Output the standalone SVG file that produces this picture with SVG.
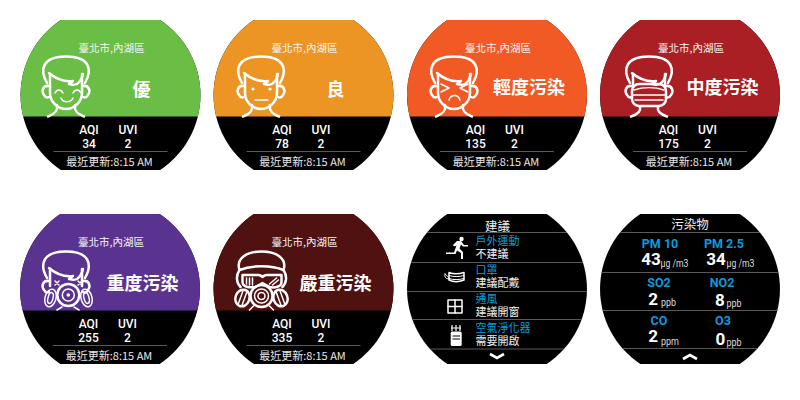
<svg xmlns="http://www.w3.org/2000/svg" width="800" height="400" viewBox="0 0 800 400">
<style>
text{font-family:"Roboto","Noto Sans CJK TC",sans-serif;fill:#fff;text-anchor:middle}
.cjk{font-family:"Noto Sans CJK TC","Noto Sans CJK SC",sans-serif}
.city{font-size:10.5px;fill:#f4f4f4}
.level{font-size:18px;font-weight:700}
.lab{font-size:12px;font-weight:500}
.upd{font-size:11px;fill:#e8e8e8}
.ln{stroke:#5a5a5a;stroke-width:1;fill:none}
.o{fill:none;stroke:#fff;stroke-width:2.5;stroke-linecap:round;stroke-linejoin:round}
.t{stroke-width:1.5}
.hd{font-size:12.500px;fill:#eee}
.b{font-size:11px;fill:#0a9bdc;text-anchor:start}
.w{font-size:11px;fill:#eee;text-anchor:start}
.p{font-size:12.500px;font-weight:700;fill:#0a9bdc}
.v{font-size:17px;font-weight:700}
.u{font-size:10.500px;fill:#ddd;text-anchor:start}
.ch{fill:none;stroke:#fff;stroke-width:2.600}
</style>
<defs>
<path id="all" d="M-49.700-75H49.700A90 90 0 0 1 49.700 75H-49.700A90 90 0 0 1-49.700-75Z" fill="#000"/>
<path id="top" d="M-49.700-75H49.700A90 90 0 0 1 87.400 21.500H-87.400A90 90 0 0 1-49.700-75Z"/>
<g id="info">
<line class="ln" x1="-57" y1="56.500" x2="57" y2="56.500"/>
<text class="lab" x="-21.500" y="39">AQI</text><text class="lab" x="17.500" y="39">UVI</text>
<text class="lab" x="17.500" y="52.500">2</text>
<text class="cjk upd" x="-1" y="70.500">最近更新:8:15 AM</text>
<text class="cjk city" x="1" y="-43">臺北市,內湖區</text>
</g>
<g id="hair" class="o">
<path d="M-19 28C-27 14-23 1.500 0 1.500C23 1.500 27 14 19 28"/>
<path d="M-17 18C-10 24-2 27 7 26L3 29C7 30 9 30 11 29C14 27 16 23 17 19"/>
<path d="M-17 31C-23 30-25 36-22 40C-21 42-19 43-17 42"/>
<path d="M17 31C23 30 25 36 22 40C21 42 19 43 17 42"/>
</g>
<g id="face">
<use href="#hair"/>
<g class="o">
<path d="M-16 19V38C-16 47-8 54 0 54C8 54 16 47 16 38V19"/>
<path d="M-9 50C-8 56-11 59-18 61.500M9 50C8 56 11 59 18 61.500"/>
</g>
</g>
<g id="filter" class="o t">
<ellipse cx="0" cy="0" rx="5.500" ry="9"/>
<ellipse cx="0" cy="0" rx="2.500" ry="5.500"/>
</g>
</defs>

<g id="screen-good" transform="translate(110.500 95)">
<use href="#all"/><use href="#top" fill="#6abd45"/><use href="#info"/>
<text class="cjk level" x="31" y="1">優</text>
<text class="lab" x="-21.500" y="52.500">34</text>
<g transform="translate(-44.500 -40)"><use href="#face"/>
<path class="o t" d="M-11 38C-9 34-5 34-3 38M7 38C9 34 13 34 15 38M-5 43C-3 48 5 48 7 43"/></g>
</g>

<g id="screen-moderate" transform="translate(303.500 95)">
<use href="#all"/><use href="#top" fill="#ec9424"/><use href="#info"/>
<text class="cjk level" x="32" y="1">良</text>
<text class="lab" x="-21.500" y="52.500">78</text>
<g transform="translate(-42.500 -40)"><use href="#face"/>
<circle cx="-8" cy="34" r="1.600" fill="#fff"/><circle cx="9" cy="34" r="1.600" fill="#fff"/>
<path class="o t" d="M-6 45H7"/></g>
</g>

<g id="screen-light" transform="translate(497 95)">
<use href="#all"/><use href="#top" fill="#f15a25"/><use href="#info"/>
<text class="cjk level" x="32" y="-1">輕度污染</text>
<text class="lab" x="-21.500" y="52.500">135</text>
<g transform="translate(-43 -40)"><use href="#face"/>
<path class="o t" d="M-13 29L-5 33L-13 37M14 29L6 33L14 37M-5 45C-3 39 4 39 6 45"/></g>
</g>

<g id="screen-medium" transform="translate(690 95)">
<use href="#all"/><use href="#top" fill="#a91f24"/><use href="#info"/>
<text class="cjk level" x="32.500" y="-1">中度污染</text>
<text class="lab" x="-21.500" y="52.500">175</text>
<g transform="translate(-41 -40)"><use href="#hair"/>
<g class="o"><path d="M-16 19V30M16 19V30M-9 52C-8 56-11 59-18 61.500M9 52C8 56 11 59 18 61.500"/></g>
<rect class="o" x="-17" y="29" width="34" height="22" rx="7"/>
<path class="o t" d="M-15 35C-6 32 6 32 15 35M-16 40H16M-14 45H14"/></g>
</g>

<g id="screen-severe" transform="translate(110 289)">
<use href="#all"/><use href="#top" fill="#5a3391"/><use href="#info"/>
<text class="cjk level" x="32.500" y="1">重度污染</text>
<text class="lab" x="-21.500" y="52.500">255</text>
<g transform="translate(-44 -39)"><use href="#hair"/>
<g class="o"><path d="M-16 19V36M16 19V36"/></g>
<path class="o t" d="M-11 31L-7 35M-7 31L-11 35M12 31L16 35M16 31L12 35"/>
<circle class="o" cx="2.300" cy="45" r="11"/><circle class="o t" cx="2.300" cy="45" r="6"/><circle cx="2.300" cy="45" r="1.800" fill="#fff"/>
<use href="#filter" transform="translate(-15.500 48) rotate(15)"/><use href="#filter" transform="translate(20.500 48) rotate(-15)"/>
<path class="o t" d="M-4 57L-9 60M8 57L13 60"/></g>
</g>

<g id="screen-hazardous" transform="translate(303.500 289)">
<use href="#all"/><use href="#top" fill="#4f1211"/><use href="#info"/>
<text class="cjk level" x="32" y="1">嚴重污染</text>
<text class="lab" x="-21.500" y="52.500">335</text>
<g transform="translate(-42 -39)">
<path class="o" d="M-22 20C-26 8-14 1.500 0 1.500C14 1.500 26 8 22 20C10 15-10 15-22 20Z"/>
<path class="o" d="M-22 20C-26 26-25 33-21 37M22 20C26 26 25 33 21 37"/>
<path class="o" d="M-19 25H-3C-1 25 0 26 1 27C2 26 3 25 5 25H20V32C20 37 13 38 8 37L1 33L-6 37C-12 38-19 37-19 32Z"/>
<path class="o t" d="M-15 28V34M-12 28V35M-9 28V35M8 34L15 28M11 35L17 30"/>
<circle class="o" cx="0" cy="46" r="11"/><circle class="o t" cx="0" cy="46" r="7"/><circle class="o t" cx="0" cy="46" r="3.500"/>
<g transform="rotate(20 -19 48)"><ellipse class="o" cx="-19" cy="48" rx="7" ry="8.500"/><path class="o t" d="M-21 41V55M-17 40V56"/></g>
<g transform="rotate(-20 19 48)"><ellipse class="o" cx="19" cy="48" rx="7" ry="8.500"/><path class="o t" d="M21 41V55M17 40V56"/></g>
<path class="o t" d="M-8 56L-12 60M8 56L12 60"/></g>
</g>

<g id="screen-advice" transform="translate(497 289)">
<use href="#all"/>
<g class="ln"><path d="M-70-56.500H70M-86-26.500H86M-90 2.500H90M-84.500 30.500H84.500M-67 60H67"/></g>
<text class="cjk hd" x="0.500" y="-58.500">建議</text>
<text class="cjk b" x="-21.500" y="-44">戶外運動</text><text class="cjk w" x="-21.500" y="-31.500">不建議</text>
<text class="cjk b" x="-21.500" y="-15">口罩</text><text class="cjk w" x="-21.500" y="-2.500">建議配戴</text>
<text class="cjk b" x="-21.500" y="13.500">通風</text><text class="cjk w" x="-21.500" y="26.500">建議開窗</text>
<text class="cjk b" x="-21.500" y="43">空氣淨化器</text><text class="cjk w" x="-21.500" y="56">需要開啟</text>
<g fill="#fff">
<circle cx="-35.500" cy="-50" r="2.200"/>
<path d="M-44-44L-40-48H-36L-33-44H-29V-42.500H-34L-36-44.500L-37.500-40.500L-34-37V-30H-36V-36L-40-38.500L-41.500-35H-51V-36.500H-43L-40.500-43.500L-43-42.500Z"/>
</g>
<g class="o t">
<path d="M-48-16.500C-44-15-38-15-33-16.500V-9C-38-7-44-7-48-9Z"/>
<path d="M-52-15C-50-13-48-12-48-11M-52-15C-53-12-51-10-48-10M-48-13.500C-44-12-38-12-33-13.500M-48-10.500C-44-9-38-9-33-10.500" stroke-width="1"/>
<rect x="-49" y="11" width="14" height="13"/><path d="M-42 11V24M-49 17.500H-35"/>
</g>
<rect x="-46.300" y="42.500" width="11" height="14.500" rx="1.500" fill="#fff"/>
<path d="M-44.500 47H-37M-44.500 50H-37" stroke="#000" stroke-width="1"/>
<path d="M-45 42V36M-41 42V36M-37 42V36M-46 39H-36" stroke="#fff" stroke-width="1.200" fill="none"/>
<path class="ch" d="M-7 65L0 69L7 65"/>
</g>

<g id="screen-pollutants" transform="translate(690 289)">
<use href="#all"/>
<g class="ln"><path d="M-70-56.500H70M-88.500-16.500H88.500M-87.400 21.500H87.400M-67.500 59.500H67.500"/></g>
<text class="cjk hd" x="0" y="-60">污染物</text>
<text class="p" x="-30" y="-41.500">PM 10</text><text class="p" x="34" y="-41.500">PM 2.5</text>
<text class="v" x="-39" y="-24.500">43</text><text class="u" x="-29.500" y="-22" textLength="28" lengthAdjust="spacingAndGlyphs">μg /m3</text>
<text class="v" x="26" y="-24.500">34</text><text class="u" x="36.500" y="-22" textLength="28" lengthAdjust="spacingAndGlyphs">μg /m3</text>
<text class="p" x="-31" y="-2.500">SO2</text><text class="p" x="32" y="-2">NO2</text>
<text class="v" x="-37" y="15.500">2</text><text class="u" x="-29" y="16.500" textLength="15" lengthAdjust="spacingAndGlyphs">ppb</text>
<text class="v" x="30" y="17">8</text><text class="u" x="36.500" y="17.500" textLength="15" lengthAdjust="spacingAndGlyphs">ppb</text>
<text class="p" x="-31" y="36">CO</text><text class="p" x="33" y="36">O3</text>
<text class="v" x="-37" y="53">2</text><text class="u" x="-29" y="56" textLength="18" lengthAdjust="spacingAndGlyphs">ppm</text>
<text class="v" x="30.500" y="56">0</text><text class="u" x="36.500" y="56.500" textLength="15" lengthAdjust="spacingAndGlyphs">ppb</text>
<path class="ch" d="M-7 70L0 66L7 70"/>
</g>
</svg>
